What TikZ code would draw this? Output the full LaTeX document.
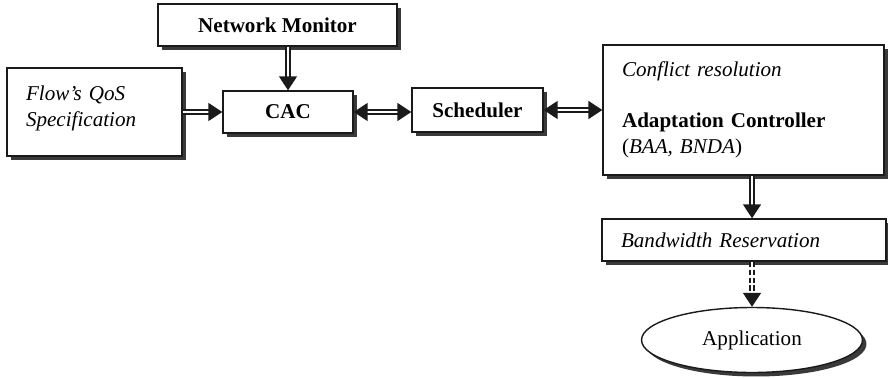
\documentclass[tikz,border=0pt]{standalone}
\usepackage{fontspec}
\setmainfont{Liberation Serif}
\usetikzlibrary{arrows.meta,positioning,calc,shadows,shapes.geometric}
\definecolor{ink}{HTML}{1A1A1A}
\definecolor{shade}{HTML}{3A3A3A}

\begin{document}
\begin{tikzpicture}[
  x=0.02cm, y=-0.02cm,
  font=\fontsize{12}{14.5}\selectfont,
  block/.style={draw=ink, fill=white, line width=0.8pt, inner sep=0pt,
    drop shadow={shadow xshift=0.08cm, shadow yshift=-0.08cm, fill=shade, opacity=1}},
  textblock/.style={block, align=left, inner xsep=0.38cm},
  oval/.style={block, ellipse},
  link/.style={draw=ink, double, double distance=1.6pt, line width=0.9pt,
    -{Triangle[width=0.36cm,length=0.28cm]}},
  twoway/.style={link, {Triangle[width=0.36cm,length=0.28cm]}-{Triangle[width=0.36cm,length=0.28cm]}},
  dashlink/.style={link, dash pattern=on 3pt off 1.5pt}
]
\useasboundingbox (0,0) rectangle (888,378);

\node[block, minimum width=4.78cm, minimum height=0.84cm] (netmon) at (277.5,25)
  {\textbf{Network Monitor}};
\node[textblock, text width=2.74cm, minimum height=1.76cm] (flowspec) at (94.5,112)
  {\textit{Flow's QoS}\\\textit{Specification}\\[-8pt]\mbox{}};
\node[block, minimum width=2.6cm, minimum height=0.84cm] (cac) at (288,112)
  {\textbf{CAC}};
\node[block, minimum width=2.62cm, minimum height=0.88cm] (sched) at (477.5,110)
  {\textbf{Scheduler}};
\node[textblock, text width=4.86cm, minimum height=2.6cm] (adapt) at (743.5,110)
  {\textit{Conflict resolution}\\[14.5pt]
   \textbf{Adaptation Controller}\\(\textit{BAA, BNDA})};
\node[textblock, text width=4.92cm, minimum height=0.84cm] (bwres) at (744,240)
  {\textit{Bandwidth Reservation}};
\node[oval, minimum width=4.42cm, minimum height=1.3cm] (app) at (752,340)
  {Application};

\draw[link] (cac.north |- netmon.south) -- (cac.north);
\draw[link] (flowspec.east) -- (cac.west);
\draw[twoway] (cac.east) -- (cac.east -| sched.west);
\draw[twoway] (sched.east) -- (sched.east -| adapt.west);
\draw[link] (app.north |- adapt.south) -- (app.north |- bwres.north);
\draw[dashlink] (app.north |- bwres.south) -- (app.north);
\end{tikzpicture}
\end{document}
